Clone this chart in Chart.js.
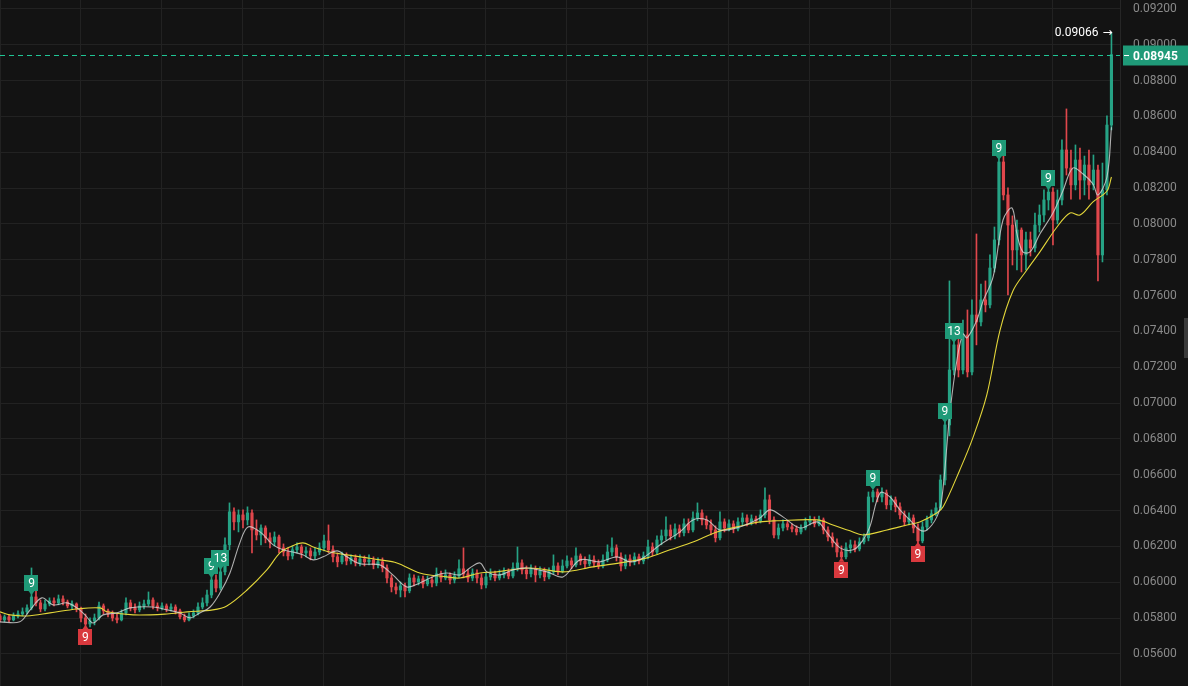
<!DOCTYPE html>
<html>
<head>
<meta charset="utf-8">
<script src="https://cdn.jsdelivr.net/npm/chart.js@4.4.1/dist/chart.umd.min.js"></script>
<style>
  html, body { margin: 0; padding: 0; background: #131313; }
  canvas { display: block; }
</style>
</head>
<body>
<canvas id="priceChart" width="1188" height="686"></canvas>
<script>
// OHLC per candle
const openPrices = [
0.05812,0.05790,0.05807,0.05790,0.05812,0.05823,0.05835,0.05857,0.05918,0.05885,
0.05851,0.05879,0.05896,0.05885,0.05907,0.05890,0.05868,0.05879,0.05851,0.05801,
0.05767,0.05784,0.05801,0.05868,0.05840,0.05823,0.05801,0.05790,0.05829,0.05885,
0.05857,0.05846,0.05868,0.05879,0.05901,0.05868,0.05857,0.05868,0.05851,0.05862,
0.05840,0.05807,0.05790,0.05812,0.05829,0.05862,0.05885,0.05929,0.06013,0.05968,
0.06058,0.06209,0.06393,0.06337,0.06376,0.06348,0.06387,0.06292,0.06264,0.06303,
0.06248,0.06225,0.06253,0.06192,0.06169,0.06147,0.06181,0.06197,0.06164,0.06175,
0.06147,0.06169,0.06192,0.06231,0.06181,0.06142,0.06114,0.06147,0.06119,0.06136,
0.06108,0.06130,0.06114,0.06125,0.06097,0.06114,0.06080,0.06024,0.05974,0.05957,
0.05980,0.05952,0.06024,0.06002,0.06019,0.05991,0.06013,0.05996,0.06047,0.06024,
0.06041,0.06013,0.06035,0.06075,0.06047,0.06024,0.06052,0.06024,0.05985,0.06030,
0.06047,0.06024,0.06041,0.06058,0.06035,0.06080,0.06108,0.06069,0.06047,0.06075,
0.06041,0.06063,0.06030,0.06058,0.06091,0.06063,0.06091,0.06119,0.06097,0.06147,
0.06119,0.06103,0.06125,0.06108,0.06091,0.06125,0.06169,0.06192,0.06142,0.06091,
0.06130,0.06114,0.06142,0.06119,0.06147,0.06197,0.06169,0.06236,0.06259,0.06292,
0.06259,0.06298,0.06276,0.06326,0.06292,0.06359,0.06387,0.06348,0.06320,0.06292,
0.06248,0.06337,0.06303,0.06326,0.06298,0.06337,0.06359,0.06337,0.06354,0.06343,
0.06376,0.06460,0.06348,0.06264,0.06303,0.06326,0.06309,0.06298,0.06281,0.06303,
0.06337,0.06348,0.06326,0.06348,0.06292,0.06253,0.06220,0.06169,0.06142,0.06192,
0.06209,0.06186,0.06225,0.06248,0.06476,0.06504,0.06476,0.06499,0.06432,0.06460,
0.06421,0.06376,0.06337,0.06359,0.06303,0.06231,0.06309,0.06348,0.06382,0.06415,
0.06571,0.06878,0.07185,0.07325,0.07185,0.07380,0.07174,0.07492,0.07453,0.07576,
0.07548,0.07754,0.07911,0.08346,0.08162,0.07994,0.07855,0.07966,0.07827,0.07911,
0.07866,0.07994,0.08050,0.08134,0.08178,0.08022,0.08134,0.08413,0.08312,0.08218,
0.08357,0.08245,0.08329,0.08218,0.08301,0.07827,0.08190,0.08552
];
const highPrices = [
0.05823,0.05818,0.05818,0.05829,0.05840,0.05857,0.05874,0.06080,0.05957,0.05901,
0.05901,0.05913,0.05913,0.05929,0.05924,0.05901,0.05896,0.05885,0.05862,0.05823,
0.05801,0.05823,0.05890,0.05879,0.05851,0.05840,0.05823,0.05846,0.05913,0.05901,
0.05879,0.05890,0.05901,0.05946,0.05913,0.05885,0.05885,0.05879,0.05879,0.05874,
0.05851,0.05823,0.05829,0.05846,0.05885,0.05913,0.05957,0.06097,0.06041,0.06086,
0.06248,0.06443,0.06415,0.06404,0.06404,0.06421,0.06404,0.06348,0.06320,0.06315,
0.06276,0.06281,0.06264,0.06214,0.06192,0.06203,0.06220,0.06209,0.06197,0.06192,
0.06192,0.06220,0.06264,0.06320,0.06203,0.06164,0.06169,0.06164,0.06153,0.06153,
0.06153,0.06147,0.06153,0.06142,0.06136,0.06136,0.06097,0.06041,0.05996,0.06002,
0.05996,0.06047,0.06041,0.06035,0.06035,0.06035,0.06030,0.06080,0.06063,0.06069,
0.06052,0.06058,0.06125,0.06192,0.06069,0.06075,0.06069,0.06047,0.06052,0.06075,
0.06063,0.06069,0.06080,0.06075,0.06108,0.06197,0.06125,0.06091,0.06097,0.06091,
0.06086,0.06080,0.06080,0.06153,0.06108,0.06125,0.06147,0.06136,0.06192,0.06158,
0.06142,0.06153,0.06147,0.06125,0.06153,0.06209,0.06248,0.06209,0.06164,0.06153,
0.06153,0.06164,0.06158,0.06169,0.06236,0.06220,0.06259,0.06292,0.06365,0.06320,
0.06326,0.06320,0.06354,0.06354,0.06393,0.06443,0.06404,0.06370,0.06348,0.06315,
0.06393,0.06354,0.06348,0.06343,0.06359,0.06387,0.06376,0.06376,0.06370,0.06404,
0.06527,0.06487,0.06365,0.06326,0.06348,0.06343,0.06326,0.06315,0.06320,0.06359,
0.06370,0.06365,0.06370,0.06359,0.06309,0.06276,0.06242,0.06203,0.06220,0.06236,
0.06231,0.06248,0.06270,0.06504,0.06515,0.06521,0.06527,0.06515,0.06482,0.06476,
0.06443,0.06398,0.06387,0.06376,0.06326,0.06337,0.06370,0.06404,0.06443,0.06599,
0.06906,0.07682,0.07364,0.07364,0.07464,0.07520,0.07576,0.07944,0.07665,0.07682,
0.07827,0.07983,0.08402,0.08379,0.08201,0.08045,0.08022,0.07978,0.07955,0.07955,
0.08061,0.08106,0.08190,0.08201,0.08201,0.08190,0.08469,0.08642,0.08413,0.08441,
0.08424,0.08379,0.08413,0.08385,0.08329,0.08340,0.08603,0.09066
];
const lowPrices = [
0.05779,0.05779,0.05779,0.05784,0.05801,0.05812,0.05823,0.05846,0.05868,0.05835,
0.05840,0.05868,0.05868,0.05874,0.05874,0.05857,0.05851,0.05835,0.05779,0.05734,
0.05751,0.05762,0.05790,0.05823,0.05807,0.05784,0.05773,0.05784,0.05818,0.05840,
0.05829,0.05835,0.05851,0.05868,0.05851,0.05840,0.05846,0.05835,0.05840,0.05823,
0.05795,0.05779,0.05784,0.05801,0.05818,0.05851,0.05868,0.05913,0.05946,0.05957,
0.06041,0.06181,0.06292,0.06281,0.06303,0.06320,0.06164,0.06236,0.06209,0.06220,
0.06192,0.06203,0.06164,0.06147,0.06125,0.06130,0.06164,0.06136,0.06142,0.06125,
0.06130,0.06153,0.06175,0.06164,0.06114,0.06086,0.06103,0.06097,0.06103,0.06091,
0.06091,0.06091,0.06097,0.06075,0.06080,0.06058,0.05996,0.05946,0.05935,0.05918,
0.05918,0.05941,0.05980,0.05985,0.05968,0.05980,0.05974,0.05980,0.06002,0.06013,
0.05991,0.05996,0.06024,0.06024,0.06002,0.06008,0.05996,0.05963,0.05968,0.06013,
0.06008,0.06013,0.06024,0.06019,0.06024,0.06063,0.06047,0.06019,0.06030,0.06002,
0.06024,0.06008,0.06019,0.06047,0.06041,0.06052,0.06080,0.06075,0.06086,0.06097,
0.06080,0.06091,0.06086,0.06075,0.06080,0.06114,0.06147,0.06119,0.06063,0.06075,
0.06091,0.06097,0.06103,0.06103,0.06130,0.06147,0.06158,0.06209,0.06236,0.06236,
0.06242,0.06253,0.06259,0.06276,0.06281,0.06343,0.06320,0.06298,0.06264,0.06225,
0.06236,0.06281,0.06287,0.06276,0.06287,0.06320,0.06315,0.06320,0.06326,0.06331,
0.06359,0.06326,0.06248,0.06242,0.06287,0.06292,0.06281,0.06264,0.06270,0.06292,
0.06320,0.06309,0.06315,0.06270,0.06231,0.06197,0.06142,0.06119,0.06130,0.06164,
0.06169,0.06175,0.06214,0.06231,0.06449,0.06449,0.06449,0.06409,0.06404,0.06393,
0.06354,0.06315,0.06320,0.06276,0.06214,0.06220,0.06292,0.06331,0.06370,0.06404,
0.06543,0.06817,0.07157,0.07146,0.07163,0.07146,0.07157,0.07325,0.07431,0.07509,
0.07531,0.07732,0.07883,0.08134,0.07604,0.07771,0.07743,0.07732,0.07743,0.07821,
0.07844,0.07955,0.08011,0.08078,0.07883,0.08000,0.08106,0.08273,0.08139,0.08190,
0.08139,0.08162,0.08139,0.08190,0.07682,0.07788,0.08162,0.08525
];
const closePrices = [
0.05790,0.05807,0.05790,0.05812,0.05823,0.05835,0.05857,0.05918,0.05885,0.05851,
0.05879,0.05896,0.05885,0.05907,0.05890,0.05868,0.05879,0.05851,0.05801,0.05767,
0.05784,0.05801,0.05868,0.05840,0.05823,0.05801,0.05790,0.05829,0.05885,0.05857,
0.05846,0.05868,0.05879,0.05901,0.05868,0.05857,0.05868,0.05851,0.05862,0.05840,
0.05807,0.05790,0.05812,0.05829,0.05862,0.05885,0.05929,0.06013,0.05968,0.06058,
0.06209,0.06393,0.06337,0.06376,0.06348,0.06387,0.06292,0.06264,0.06303,0.06248,
0.06225,0.06253,0.06192,0.06169,0.06147,0.06181,0.06197,0.06164,0.06175,0.06147,
0.06169,0.06192,0.06231,0.06181,0.06142,0.06114,0.06147,0.06119,0.06136,0.06108,
0.06130,0.06114,0.06125,0.06097,0.06114,0.06080,0.06024,0.05974,0.05957,0.05980,
0.05952,0.06024,0.06002,0.06019,0.05991,0.06013,0.05996,0.06047,0.06024,0.06041,
0.06013,0.06035,0.06075,0.06047,0.06024,0.06052,0.06024,0.05985,0.06030,0.06047,
0.06024,0.06041,0.06058,0.06035,0.06080,0.06108,0.06069,0.06047,0.06075,0.06041,
0.06063,0.06030,0.06058,0.06091,0.06063,0.06091,0.06119,0.06097,0.06147,0.06119,
0.06103,0.06125,0.06108,0.06091,0.06125,0.06169,0.06192,0.06142,0.06091,0.06130,
0.06114,0.06142,0.06119,0.06147,0.06197,0.06169,0.06236,0.06259,0.06292,0.06259,
0.06298,0.06276,0.06326,0.06292,0.06359,0.06387,0.06348,0.06320,0.06292,0.06248,
0.06337,0.06303,0.06326,0.06298,0.06337,0.06359,0.06337,0.06354,0.06343,0.06376,
0.06460,0.06348,0.06264,0.06303,0.06326,0.06309,0.06298,0.06281,0.06303,0.06337,
0.06348,0.06326,0.06348,0.06292,0.06253,0.06220,0.06169,0.06142,0.06192,0.06209,
0.06186,0.06225,0.06248,0.06476,0.06504,0.06476,0.06499,0.06432,0.06460,0.06421,
0.06376,0.06337,0.06359,0.06303,0.06231,0.06309,0.06348,0.06382,0.06415,0.06571,
0.06878,0.07185,0.07325,0.07185,0.07380,0.07174,0.07492,0.07453,0.07576,0.07548,
0.07754,0.07911,0.08346,0.08162,0.07994,0.07855,0.07966,0.07827,0.07911,0.07866,
0.07994,0.08050,0.08134,0.08178,0.08022,0.08134,0.08413,0.08312,0.08218,0.08357,
0.08245,0.08329,0.08218,0.08301,0.07827,0.08190,0.08552,0.08945
];

// moving averages, sampled along the drawn lines (candle index, price)
const fastMaIdx = [0,4.4,6.7,9.3,11.8,14.9,17.1,18.9,20.7,22.9,26,28.9,34,37.1,40,42.2,44.4,46.7,48.9,51.1,
  53.3,55.1,57.8,60.7,62.9,65.1,67.3,69.6,71.8,74.9,77.1,80,84.4,87.3,90.4,93.3,97.1,99.3,102.2,104.4,
  106.7,108.2,111.1,114,117.1,121.6,125.1,128.9,133.3,137.1,140,142.9,146.7,151.1,154,157.1,160,164.4,168.9,171.1,
  174,177.8,181.6,183.8,186.7,189.6,191.8,193.3,195.6,197.8,200,202.2,204.4,206,208.2,209.3,211.1,212.7,214,214.9,
  217.1,218.4,220.7,222.9,224.9,226,227.3,228.9,231.1,234,236.2,238.4,240.7,242.9,244,246,247];
const fastMaVal = [0.05779,0.05779,0.05846,0.05913,0.05874,0.05885,0.05857,0.05818,0.05773,0.05818,0.05829,0.05857,0.05862,0.05846,0.05829,0.05801,0.05829,0.05862,0.05941,0.06052,
  0.06220,0.06309,0.06281,0.06209,0.06181,0.06169,0.06153,0.06125,0.06142,0.06175,0.06142,0.06103,0.06097,0.06041,0.05974,0.05996,0.06041,0.06052,0.06041,0.06080,
  0.06108,0.06058,0.06041,0.06069,0.06080,0.06058,0.06030,0.06125,0.06114,0.06142,0.06114,0.06136,0.06209,0.06281,0.06348,0.06348,0.06292,0.06309,0.06359,0.06404,
  0.06365,0.06303,0.06337,0.06276,0.06192,0.06181,0.06236,0.06309,0.06499,0.06476,0.06404,0.06348,0.06292,0.06292,0.06365,0.06465,0.06945,0.07246,0.07386,0.07364,
  0.07464,0.07565,0.07704,0.08022,0.08089,0.07944,0.07844,0.07844,0.07944,0.08061,0.08184,0.08312,0.08279,0.08223,0.08162,0.08262,0.08540];

const slowMaIdx = [0,2.2,6,11.1,17.1,22.2,23.8,29.6,37.1,41.6,47.3,50.4,54.9,59.3,62.2,64.4,67.3,69.6,73.3,77.1,
  81.6,84.4,88.2,93.3,99.3,102.2,106.7,110.4,117.8,125.1,131.8,139.3,143.8,148.9,154,159.3,163.8,168.9,172.7,181.6,
  185.1,188.9,191.8,197.1,201.6,204.4,208.2,209.6,213.3,216.2,219.3,222.2,225.1,228.2,231.1,234.9,237.8,240,242.9,246,247];
const slowMaVal = [0.05835,0.05818,0.05812,0.05829,0.05851,0.05857,0.05835,0.05818,0.05823,0.05835,0.05846,0.05868,0.05957,0.06069,0.06164,0.06197,0.06220,0.06197,0.06169,0.06153,
  0.06136,0.06125,0.06108,0.06052,0.06030,0.06024,0.06052,0.06058,0.06080,0.06058,0.06086,0.06114,0.06136,0.06181,0.06225,0.06281,0.06309,0.06337,0.06343,0.06348,
  0.06320,0.06287,0.06264,0.06292,0.06320,0.06337,0.06387,0.06421,0.06627,0.06806,0.07046,0.07403,0.07626,0.07743,0.07844,0.07983,0.08061,0.08050,0.08123,0.08184,0.08262];

// sequential count markers (candle index + text)
const tdGreenIdx = [7, 47, 49, 194, 210, 212, 222, 233];
const tdGreenText = ['9', '9', '13', '9', '9', '13', '9', '9'];
const tdRedIdx = [19, 187, 204];
const tdRedText = ['9', '9', '9'];

const yTicks = [0.056,0.058,0.060,0.062,0.064,0.066,0.068,0.070,0.072,0.074,0.076,0.078,0.080,0.082,0.084,0.086,0.088,0.090,0.092];
const lastPrice = 0.08945;
const peakPrice = 0.09066;

const UP = '#26a385';
const DOWN = '#e0474c';
const GRID = '#222222';

function candleColor(i) {
    return closePrices[i] >= openPrices[i] ? UP : DOWN;
}

const overlayPlugin = {
    id: 'overlay',
    beforeDraw(chart) {
        const c = chart.ctx;
        c.save();
        c.fillStyle = '#131313';
        c.fillRect(0, 0, chart.width, chart.height);
        c.restore();
    },
    afterDatasetsDraw(chart) {
        const c = chart.ctx;
        const xs = chart.scales.x, ys = chart.scales.y;
        const area = chart.chartArea;
        c.save();

        // sequential count boxes
        c.font = '12px Roboto, sans-serif';
        c.textAlign = 'center';
        c.textBaseline = 'middle';
        function box(idx, txt, fill, above) {
            const x = xs.getPixelForValue(idx);
            let y;
            if (above) {
                y = ys.getPixelForValue(Math.max(openPrices[idx], closePrices[idx])) - 14;
            } else {
                y = ys.getPixelForValue(Math.min(openPrices[idx], closePrices[idx])) + 13;
            }
            const w = txt.length > 1 ? 18 : 14, h = 16;
            c.fillStyle = fill;
            c.fillRect(Math.round(x - w / 2), Math.round(y - h / 2), w, h);
            c.beginPath();
            if (above) {
                c.moveTo(x - 3, y + h / 2); c.lineTo(x + 3, y + h / 2); c.lineTo(x, y + h / 2 + 4);
            } else {
                c.moveTo(x - 3, y - h / 2); c.lineTo(x + 3, y - h / 2); c.lineTo(x, y - h / 2 - 4);
            }
            c.fill();
            c.fillStyle = '#ffffff';
            c.fillText(txt, x, y + 1);
        }
        tdGreenIdx.forEach((idx, k) => box(idx, tdGreenText[k], '#1f9a78', true));
        tdRedIdx.forEach((idx, k) => box(idx, tdRedText[k], '#d9393e', false));

        // last price dashed line
        const py = Math.round(ys.getPixelForValue(lastPrice)) + 0.5;
        c.strokeStyle = '#1fc595';
        c.lineWidth = 1;
        c.setLineDash([5, 4]);
        c.beginPath();
        c.moveTo(area.left, py);
        c.lineTo(area.right, py);
        c.stroke();
        c.setLineDash([]);

        // peak marker
        const last = closePrices.length - 1;
        const hx = xs.getPixelForValue(last) + 1;
        const hy = ys.getPixelForValue(peakPrice);
        c.fillStyle = '#ffffff';
        c.textAlign = 'right';
        c.font = '12px "DejaVu Sans", sans-serif';
        c.fillText('\u2192', hx, hy);
        const arrowW = c.measureText('\u2192').width;
        c.font = '12px Roboto, sans-serif';
        c.fillText(peakPrice.toFixed(5), hx - arrowW - 4, hy);

        // price tag on the axis
        c.fillStyle = '#1f9a78';
        c.fillRect(area.right + 3, py - 10, chart.width - area.right - 3, 20);
        c.strokeStyle = '#ffffff';
        c.beginPath();
        c.moveTo(area.right + 4, py);
        c.lineTo(area.right + 9, py);
        c.stroke();
        c.fillStyle = '#ffffff';
        c.font = 'bold 12px Roboto, sans-serif';
        c.textAlign = 'left';
        c.fillText(lastPrice.toFixed(5), area.right + 13, py + 1);

        // scroll handle at the right edge
        c.fillStyle = '#3a3a3a';
        c.fillRect(chart.width - 4, 318, 4, 40);
        c.restore();
    }
};

const ctx = document.getElementById('priceChart').getContext('2d');
const priceChart = new Chart(ctx, {
    type: 'bar',
    data: {
        datasets: [
            {
                type: 'line',
                label: 'MA fast',
                data: fastMaIdx.map((x, k) => ({ x: x, y: fastMaVal[k] })),
                borderColor: 'rgba(215,215,215,0.8)',
                borderWidth: 1.1,
                pointRadius: 0,
                tension: 0.35,
                order: 0
            },
            {
                type: 'line',
                label: 'MA slow',
                data: slowMaIdx.map((x, k) => ({ x: x, y: slowMaVal[k] })),
                borderColor: '#e3d63a',
                borderWidth: 1.1,
                pointRadius: 0,
                tension: 0.35,
                order: 0
            },
            {
                label: 'bodies',
                data: openPrices.map((o, i) => ({ x: i, y: [o, closePrices[i]] })),
                backgroundColor: (c) => candleColor(c.dataIndex),
                barThickness: 2.5,
                minBarLength: 1,
                grouped: false,
                order: 1
            },
            {
                label: 'wicks',
                data: lowPrices.map((l, i) => ({ x: i, y: [l, highPrices[i]] })),
                backgroundColor: (c) => candleColor(c.dataIndex),
                barThickness: 1,
                grouped: false,
                order: 2
            }
        ]
    },
    options: {
        responsive: false,
        animation: false,
        layout: { padding: 0 },
        plugins: {
            legend: { display: false },
            tooltip: { enabled: false }
        },
        scales: {
            x: {
                type: 'linear',
                min: 0,
                max: 248.9,
                offset: false,
                ticks: { display: false, stepSize: 18 },
                grid: { color: GRID, drawTicks: false, offset: false },
                border: { display: false },
                afterFit: (s) => { s.height = 0; s.paddingLeft = 0; s.paddingRight = 0; }
            },
            y: {
                position: 'right',
                min: 0.05421,
                max: 0.0925,
                afterBuildTicks: (s) => { s.ticks = yTicks.map(v => ({ value: v })); },
                ticks: {
                    color: '#8a8a8a',
                    padding: 13,
                    font: { family: 'Roboto, sans-serif', size: 12 },
                    callback: (v) => v.toFixed(5)
                },
                grid: { color: GRID, drawTicks: false },
                border: { color: '#262626' },
                afterFit: (s) => { s.width = 68; s.paddingTop = 0; s.paddingBottom = 0; }
            }
        }
    },
    plugins: [overlayPlugin]
});
</script>
</body>
</html>
